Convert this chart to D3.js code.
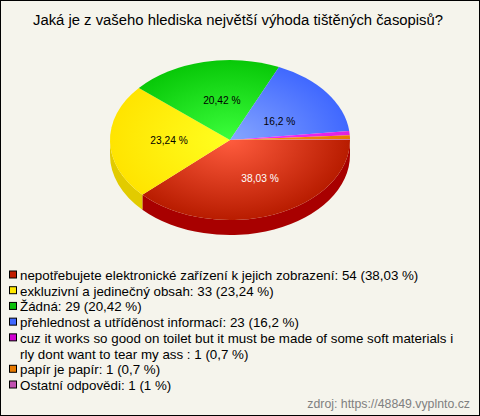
<!DOCTYPE html>
<html>
<head>
<meta charset="utf-8">
<script src="https://cdn.jsdelivr.net/npm/d3@7"></script>
<style>
  html, body { margin: 0; padding: 0; background: #f5f4ec; }
  svg { display: block; }
  text { font-family: "Liberation Sans", Arial, sans-serif; }
</style>
</head>
<body>
<div id="chart"></div>
<script>
const title = 'Jaká je z vašeho hlediska největší výhoda tištěných časopisů?';
const source = 'zdroj: https://48849.vyplnto.cz';

// share of the pie for each slice, in percent
const sliceShares = [38.03, 23.24, 20.42, 16.5, 0.86, 0.8, 0.15];
const sliceLabels = ['38,03 %', '23,24 %', '20,42 %', '16,2 %', '', '', ''];
const legendLines = [
  ['nepotřebujete elektronické zařízení k jejich zobrazení: 54 (38,03 %)'],
  ['exkluzivní a jedinečný obsah: 33 (23,24 %)'],
  ['Žádná: 29 (20,42 %)'],
  ['přehlednost a utříděnost informací: 23 (16,2 %)'],
  ['cuz it works so good on toilet but it must be made of some soft materials i', 'rly dont want to tear my ass : 1 (0,7 %)'],
  ['papír je papír: 1 (0,7 %)'],
  ['Ostatní odpovědi: 1 (1 %)']
];
const swatchColors = ['#c01c00', '#ffe800', '#0cc00c', '#4068ff', '#d000d0', '#e87a00', '#c050b0'];
const innerColors = ['#ff5c3e', '#ffff20', '#3cff3c', '#86a6ff', '#ff30ff', '#ff9a10', '#d878b8'];
const outerColors = ['#b81c00', '#ffe400', '#08c808', '#4068ff', '#e020e0', '#e87a00', '#c060a8'];
const sideColors = ['#a80000', '#e2cb00', '#0a9a0a', '#3050c0', '#a000a0', '#b86000', '#904080'];

const width = 480, height = 416;
const cx = 230, cy = 140, rx = 120, ry = 80, depth = 15;

const svg = d3.select('#chart').append('svg')
  .attr('width', width)
  .attr('height', height);

svg.append('rect')
  .attr('x', 0.5).attr('y', 0.5)
  .attr('width', width - 1).attr('height', height - 1)
  .attr('fill', '#f5f4ec')
  .attr('stroke', '#000');

svg.append('text')
  .attr('x', 238).attr('y', 25)
  .attr('text-anchor', 'middle')
  .attr('font-size', 14.85)
  .attr('fill', '#000')
  .text(title);

// pie runs clockwise from 3 o'clock
const pie = d3.pie().sort(null)
  .startAngle(Math.PI / 2)
  .endAngle(Math.PI * 2.5);
const slices = pie(sliceShares);
const arc = d3.arc().innerRadius(0).outerRadius(rx);
const labelArc = d3.arc().innerRadius(0).outerRadius(rx * 1.0);

const defs = svg.append('defs');
slices.forEach((d, i) => {
  const grad = defs.append('radialGradient')
    .attr('id', 'slice' + i)
    .attr('gradientUnits', 'userSpaceOnUse')
    .attr('cx', 0).attr('cy', 0).attr('r', rx);
  grad.append('stop').attr('offset', '0%').attr('stop-color', innerColors[i]);
  grad.append('stop').attr('offset', '100%').attr('stop-color', outerColors[i]);
});

// side wall, only the part of each slice on the front of the ellipse
function sidePath(d) {
  const a0 = Math.max(d.startAngle - Math.PI / 2, 0);
  const a1 = Math.min(d.endAngle - Math.PI / 2, Math.PI);
  if (a0 >= a1) return null;
  const x0 = cx + rx * Math.cos(a0), y0 = cy + ry * Math.sin(a0);
  const x1 = cx + rx * Math.cos(a1), y1 = cy + ry * Math.sin(a1);
  return `M${x0},${y0} A${rx},${ry} 0 0 1 ${x1},${y1} L${x1},${y1 + depth} A${rx},${ry} 0 0 0 ${x0},${y0 + depth} Z`;
}

svg.append('g').selectAll('path')
  .data(slices)
  .enter().append('path')
  .attr('d', sidePath)
  .attr('fill', (d, i) => sideColors[i]);

svg.append('g')
  .attr('transform', `translate(${cx},${cy}) scale(1,${ry / rx})`)
  .selectAll('path')
  .data(slices)
  .enter().append('path')
  .attr('d', arc)
  .attr('fill', (d, i) => `url(#slice${i})`);

// labels sit on the half radius, then get pulled a bit off it like the original
const labelNudge = [[8, 1], [-1, 0], [5, 0], [1, 5], [0, 0], [0, 0], [0, 0]];
svg.append('g').selectAll('text')
  .data(slices)
  .enter().append('text')
  .attr('x', (d, i) => cx + labelArc.centroid(d)[0] + labelNudge[i][0])
  .attr('y', (d, i) => cy + labelArc.centroid(d)[1] * ry / rx + labelNudge[i][1] + 3.5)
  .attr('text-anchor', 'middle')
  .attr('font-size', 10.2)
  .attr('fill', (d, i) => i === 0 ? '#fff' : '#000')
  .text((d, i) => sliceLabels[i]);

const legendRowY = d3.scalePoint().domain(d3.range(8)).range([275, 385]);
let row = 0;
const legend = svg.append('g');
legendLines.forEach((lines, i) => {
  legend.append('rect')
    .attr('x', 9.5).attr('y', legendRowY(row) - 4)
    .attr('width', 7).attr('height', 7)
    .attr('fill', swatchColors[i])
    .attr('stroke', '#000');
  lines.forEach(line => {
    legend.append('text')
      .attr('x', 20).attr('y', legendRowY(row) + 5)
      .attr('font-size', 13.35)
      .attr('fill', '#000')
      .text(line);
    row++;
  });
});

svg.append('text')
  .attr('x', 470).attr('y', 408)
  .attr('text-anchor', 'end')
  .attr('font-size', 12.3)
  .attr('fill', '#808080')
  .text(source);
</script>
</body>
</html>
